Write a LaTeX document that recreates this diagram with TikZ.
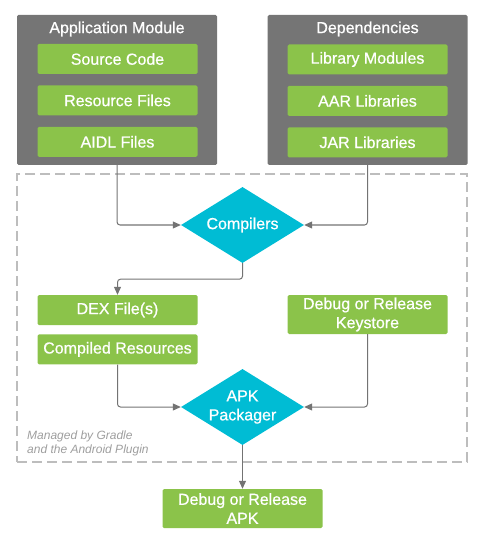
\documentclass[tikz,border=0pt]{standalone}
\usepackage{fontspec}
\setmainfont{Liberation Sans}
\newfontfamily\MedFont{Liberation Sans}[FakeBold=0.7]
\usetikzlibrary{arrows.meta,positioning,shapes.geometric}
\definecolor{modGrey}{HTML}{757575}
\definecolor{fileGreen}{HTML}{8BC34A}
\definecolor{toolCyan}{HTML}{00BCD4}
\definecolor{wire}{HTML}{737373}
\definecolor{frameGrey}{HTML}{BDBDBD}
\definecolor{noteGrey}{HTML}{9E9E9E}
\newcommand{\BoxFont}{\MedFont\fontsize{16}{19}\selectfont}
\newcommand{\TitleFont}{\MedFont\fontsize{16}{19}\selectfont}
\newcommand{\NoteFont}{\fontsize{12}{14}\selectfont\itshape}
\tikzset{
  flow arrow/.style={
    -{Triangle[length=8pt,width=7pt]},
    line width=1pt, wire, rounded corners=3pt
  },
  module box/.style={
    fill=modGrey, rounded corners=1.5pt, inner sep=0pt,
    minimum width=200pt, minimum height=150pt
  },
  module title/.style={text=white, font=\TitleFont, inner sep=0pt},
  file box/.style={
    fill=fileGreen, text=white, font=\BoxFont, rounded corners=1.5pt,
    minimum width=160pt, minimum height=30pt, inner sep=1pt, align=center
  },
  tool diamond/.style={
    diamond, aspect=1.62, fill=toolCyan, text=white, font=\BoxFont,
    minimum width=123pt, minimum height=76pt, inner sep=-4pt, align=center
  },
}

\begin{document}
\begin{tikzpicture}[x=1pt,y=-1pt]
  \useasboundingbox (0,0) rectangle (481,534);

  % Gradle frame
  \node[draw=frameGrey, line width=1.5pt, dash pattern=on 10pt off 5pt,
        minimum width=450pt, minimum height=288pt, inner sep=0pt] (gradle) at (242,318) {};
  \node[font=\NoteFont, text=noteGrey, align=left, anchor=west, inner sep=0pt] (note) at (27,443) {%
    Managed by Gradle\\and the Android Plugin};

  % Application module
  \node[module box] (app) at (117,90) {};
  \node[module title] (appT) at (117,29) {Application Module};
  \node[file box] (src) at (117.5,59) {Source Code};
  \node[file box, below=11pt of src] (res) {Resource Files};
  \node[file box, below=11pt of res] (aidl) {AIDL Files};

  % Dependencies
  \node[module box] (dep) at (367.5,90) {};
  \node[module title] (depT) at (367.5,29) {Dependencies};
  \node[file box] (libm) at (367.5,59.5) {Library Modules};
  \node[file box, below=11pt of libm] (aar) {AAR Libraries};
  \node[file box, below=11pt of aar] (jar) {JAR Libraries};

  % Compilers
  \node[tool diamond] (comp) at (242.5,225) {Compilers};

  % Compiler outputs and keystore
  \node[file box] (dex) at (117.5,310) {DEX File(s)};
  \node[file box, below=9pt of dex] (cres) {Compiled Resources};
  \node[file box, minimum height=39pt] (keys) at (367.5,314.5) {Debug or Release\\Keystore};

  % Packager
  \node[tool diamond] (pack) at (242.5,407) {APK\\Packager};

  % Final APK
  \node[file box, minimum height=39pt] (apk) at (242.5,508.5) {Debug or Release\\APK};

  \draw[flow arrow] (app.south) |- (comp.west);
  \draw[flow arrow] (dep.south) |- (comp.east);
  \draw[flow arrow] (comp.south) -- ++(0,16) -| (dex.north);
  \draw[flow arrow] (cres.south) |- (pack.west);
  \draw[flow arrow] (keys.south) |- (pack.east);
  \draw[flow arrow] (pack.south) -- (apk.north);
\end{tikzpicture}
\end{document}
